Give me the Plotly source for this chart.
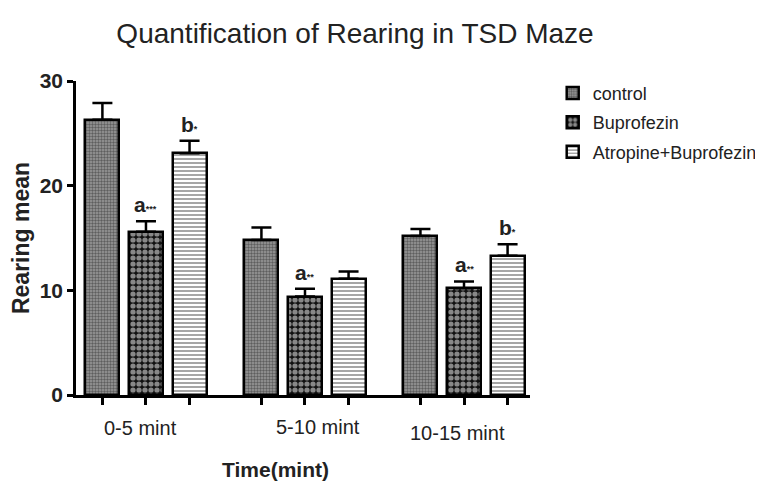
import plotly.graph_objects as go

categories = ["0-5 mint", "5-10 mint", "10-15 mint"]
series_names = ["control", "Buprofezin", "Atropine+Buprofezin"]
control = [26.3, 14.8, 15.2]
control_err = [1.6, 1.2, 0.65]
buprofezin = [15.6, 9.4, 10.2]
buprofezin_err = [1.0, 0.75, 0.65]
atropine = [23.1, 11.1, 13.3]
atropine_err = [1.2, 0.7, 1.1]
sig_labels = [
    ["", "a<span style='font-size:9px'>***</span>", "b<span style='font-size:9px'>*</span>"],
    ["", "a<span style='font-size:9px'>**</span>", ""],
    ["", "a<span style='font-size:9px'>**</span>", "b<span style='font-size:9px'>*</span>"],
]
y_ticks = [0, 10, 20, 30]

values = [control, buprofezin, atropine]
errors = [control_err, buprofezin_err, atropine_err]
offsets = [-0.274, 0.0, 0.274]
patterns = [
    dict(shape=".", fgcolor="#222222", bgcolor="#9a9a9a", size=3, solidity=0.5),
    dict(shape=".", fgcolor="#ffffff", bgcolor="#111111", size=6, solidity=0.6),
    dict(shape="-", fgcolor="#000000", bgcolor="#ffffff", size=4, solidity=0.35),
]
colors = ["#9a9a9a", "#111111", "#ffffff"]

FONT = "Liberation Sans"
W, H = 755, 474
L, T, PW, PH = 68, 73, 454, 314

fig = go.Figure()
for s, name in enumerate(series_names):
    xs = [i + offsets[s] for i in range(len(categories))]
    fig.add_trace(go.Bar(
        x=xs, y=values[s], name=name, width=0.214,
        legendgroup=name,
        marker=dict(color=colors[s], pattern=patterns[s],
                    line=dict(color="black", width=2.5)),
        error_y=dict(type="data", symmetric=False, array=errors[s],
                     arrayminus=[0] * len(categories),
                     color="black", thickness=2.5, width=10),
    ))

annotations = []
for i in range(len(categories)):
    for s in range(3):
        t = sig_labels[i][s]
        if t:
            annotations.append(dict(
                x=i + offsets[s], y=values[s][i] + errors[s][i], xref="x", yref="y",
                text=t, showarrow=False, yanchor="bottom", yshift=3,
                font=dict(family=FONT, size=21, color="#222", weight="bold"),
            ))

# category label positions in reference pixels (page coords)
cat_pos = [(140, 428), (318, 427), (457, 433)]
for i, c in enumerate(categories):
    px, py = cat_pos[i]
    annotations.append(dict(
        x=(px - 8 - L) / PW, y=(T + PH - (py - 8)) / PH, xref="paper", yref="paper",
        text=c, showarrow=False, xanchor="center", yanchor="middle",
        font=dict(family=FONT, size=20, color="#222"),
    ))
annotations.append(dict(
    x=(275 - 8 - L) / PW, y=(T + PH - (469 - 8)) / PH, xref="paper", yref="paper",
    text="<b>Time(mint)</b>", showarrow=False, xanchor="center", yanchor="middle",
    font=dict(family=FONT, size=21, color="#222"),
))

tick_x = [i + o for i in range(len(categories)) for o in offsets]

fig.update_layout(
    width=W, height=H,
    margin=dict(l=L, r=W - L - PW, t=T, b=H - T - PH, autoexpand=False),
    paper_bgcolor="white", plot_bgcolor="white",
    title=dict(text="Quantification of Rearing in TSD Maze", x=(355 - 8) / W, xref="container",
               xanchor="center", y=1 - 25 / H, yref="container", yanchor="middle",
               font=dict(family=FONT, size=28, color="#222")),
    showlegend=True,
    legend=dict(x=1.05, y=1.02, xanchor="left", yanchor="top",
                font=dict(family=FONT, size=18, color="#222"),
                traceorder="grouped", tracegroupgap=3, bgcolor="rgba(0,0,0,0)"),
    annotations=annotations,
    bargap=0,
)
fig.update_xaxes(
    range=[-0.44, 2.415], showgrid=False, zeroline=False,
    showline=True, linecolor="black", linewidth=2.5,
    tickmode="array", tickvals=tick_x, ticktext=[""] * len(tick_x),
    ticks="outside", ticklen=7, tickwidth=2.5, tickcolor="black",
)
fig.update_yaxes(
    range=[0, 30], showgrid=False, zeroline=False,
    showline=True, linecolor="black", linewidth=2.5,
    tickmode="array", tickvals=y_ticks,
    ticks="outside", ticklen=6, tickwidth=2.5, tickcolor="black",
    tickfont=dict(family=FONT, size=21, color="#222", weight="bold"),
    title=dict(text="<b>Rearing mean</b>", standoff=8,
               font=dict(family=FONT, size=23, color="#222")),
)

fig.write_html("out.html")
